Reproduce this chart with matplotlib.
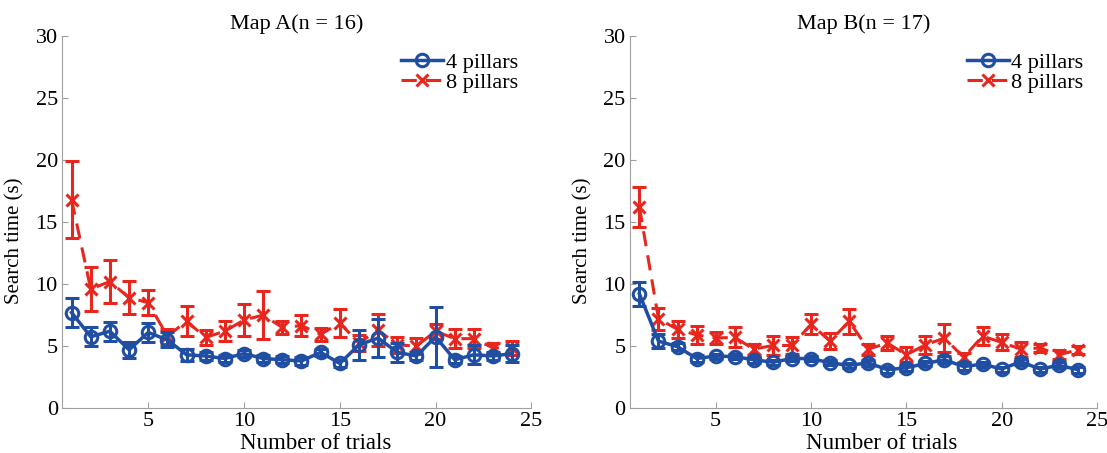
import matplotlib.pyplot as plt
import numpy as np

# Trials 1..24
trials = np.arange(1, 25)

# Map A (n = 16)
a4_mean = [7.7, 5.75, 6.2, 4.7, 6.1, 5.5, 4.3, 4.2, 4.0, 4.4, 4.0, 3.9,
           3.8, 4.5, 3.6, 5.1, 5.65, 4.5, 4.2, 5.75, 3.9, 4.3, 4.2, 4.4]
a4_err = [1.15, 0.75, 0.75, 0.65, 0.8, 0.6, 0.5, 0.3, 0.3, 0.3, 0.3, 0.3,
          0.3, 0.3, 0.3, 1.2, 1.5, 0.75, 0.3, 2.4, 0.3, 0.75, 0.3, 0.65]
a8_mean = [16.8, 9.6, 10.2, 8.9, 8.5, 5.8, 7.0, 5.7, 6.2, 7.1, 7.5, 6.5,
           6.65, 5.95, 6.85, 5.25, 6.3, 5.1, 5.0, 6.2, 5.6, 5.6, 4.85, 4.85]
a8_err = [3.1, 1.8, 1.7, 1.35, 1.0, 0.6, 1.2, 0.6, 0.8, 1.3, 1.9, 0.55,
          0.85, 0.5, 1.15, 0.65, 1.3, 0.65, 0.65, 0.6, 0.75, 0.75, 0.4, 0.55]

# Map B (n = 17)
b4_mean = [9.2, 5.4, 4.95, 4.0, 4.2, 4.15, 3.9, 3.7, 4.0, 4.0, 3.65, 3.45,
           3.65, 3.1, 3.25, 3.6, 3.9, 3.35, 3.55, 3.15, 3.75, 3.15, 3.45, 3.1]
b4_err = [0.95, 0.55, 0.3, 0.3, 0.2, 0.2, 0.25, 0.2, 0.2, 0.2, 0.2, 0.2,
          0.25, 0.25, 0.25, 0.2, 0.3, 0.25, 0.2, 0.2, 0.25, 0.2, 0.25, 0.25]
b8_mean = [16.2, 7.2, 6.35, 5.9, 5.65, 5.7, 4.75, 5.05, 5.05, 6.75, 5.4, 7.0,
           4.75, 5.25, 4.3, 5.1, 5.65, 4.1, 5.8, 5.3, 4.75, 4.85, 4.3, 4.7]
b8_err = [1.6, 0.9, 0.7, 0.7, 0.45, 0.8, 0.45, 0.75, 0.65, 0.8, 0.65, 1.0,
          0.45, 0.55, 0.6, 0.7, 1.1, 0.35, 0.75, 0.65, 0.6, 0.3, 0.35, 0.3]

titles = ['Map A(n = 16)', 'Map B(n = 17)']

blue = '#1f4ea3'
red = '#e8261e'

plt.rcParams['font.family'] = ['Liberation Serif', 'DejaVu Serif']
plt.rcParams['font.size'] = 16

fig = plt.figure(figsize=(11.07, 4.53), dpi=100)
ax1 = fig.add_axes([0.056, 0.099, 0.424, 0.822])
ax2 = fig.add_axes([0.569, 0.099, 0.422, 0.822])

data = [(a4_mean, a4_err, a8_mean, a8_err), (b4_mean, b4_err, b8_mean, b8_err)]

for ax, (m4, e4, m8, e8), title in zip([ax1, ax2], data, titles):
    c8 = ax.errorbar(trials, m8, yerr=e8, color=red, ls='--', lw=2.2, marker='x',
                     ms=8, mew=2.2, capsize=5, elinewidth=2.2, capthick=2.2,
                     dashes=(5, 3), zorder=2)
    c4 = ax.errorbar(trials, m4, yerr=e4, color=blue, ls='-', lw=2.5, marker='o',
                     ms=9, mew=2.2, mfc='none', capsize=5, elinewidth=2.2,
                     capthick=2.2, zorder=3)
    ax.set_xlim(0.5, 25)
    ax.set_ylim(0, 30)
    ax.set_xticks([5, 10, 15, 20, 25])
    ax.set_yticks([0, 5, 10, 15, 20, 25, 30])
    ax.spines['top'].set_visible(False)
    ax.spines['right'].set_visible(False)
    for s in ['left', 'bottom']:
        ax.spines[s].set_color('#a0a0a0')
    ax.tick_params(direction='in', length=4, color='#a0a0a0', labelsize=16,
                   pad=3)
    ax.set_title(title, fontsize=16, pad=5)
    ax.set_xlabel('Number of trials', fontsize=16.5, labelpad=0)
    ax.xaxis.set_label_coords(0.54, -0.066)
    ax.set_ylabel('Search time (s)', fontsize=15, labelpad=4)
    ax.yaxis.set_label_coords(-0.079, 0.45)
    # legend shows only line + marker (no error bars)
    ax.legend([c4[0], c8[0]], ['4 pillars', '8 pillars'], loc='upper right',
              frameon=False, fontsize=16, handlelength=1.9, handletextpad=0.1,
              labelspacing=0.0, borderaxespad=0.0, bbox_to_anchor=(0.99, 0.98))

fig.savefig('out.png', dpi=100)
